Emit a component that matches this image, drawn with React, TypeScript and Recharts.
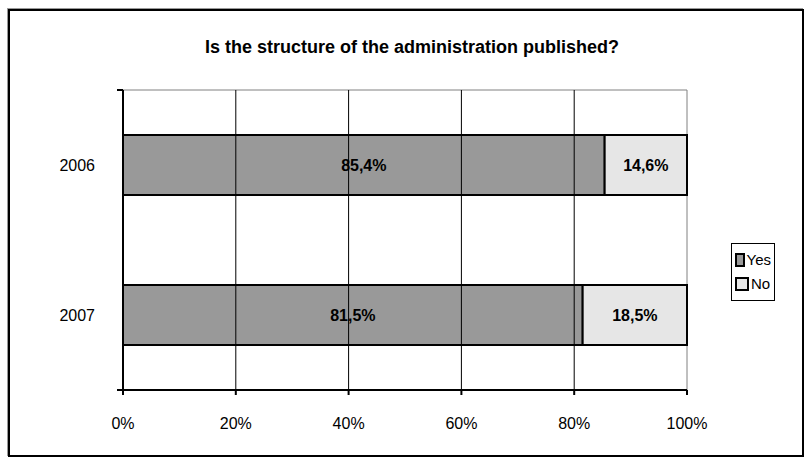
import React from "react";
import {
  BarChart,
  Bar,
  XAxis,
  YAxis,
  Legend,
  LabelList,
  ReferenceLine,
  ReferenceArea,
} from "recharts";

const years = ["2006", "2007"];
const yesValues = [85.4, 81.5];
const noValues = [14.6, 18.5];
const percentTicks = [0, 20, 40, 60, 80, 100];
const innerGrid = [20, 40, 60, 80];
const bandEdges = [0, 1, 2];

const data = years.map((year, i) => ({
  year,
  Yes: yesValues[i],
  No: noValues[i],
}));

const font = "'Liberation Sans', Arial, sans-serif";

const fmt = (v: number) => v.toFixed(1).replace(".", ",") + "%";

const LegendBox = () => (
  <div
    style={{
      border: "1px solid #000",
      background: "#fff",
      padding: "4px 3px",
      fontFamily: font,
      fontSize: 15,
      lineHeight: "24px",
    }}
  >
    {[
      { name: "Yes", color: "#999999" },
      { name: "No", color: "#e6e6e6" },
    ].map((d) => (
      <div key={d.name} style={{ display: "flex", alignItems: "center" }}>
        <span
          style={{
            display: "inline-block",
            width: 10,
            height: 10,
            border: "2px solid #000",
            background: d.color,
            marginRight: 2,
          }}
        />
        {d.name}
      </div>
    ))}
  </div>
);

export default function App() {
  return (
    <div style={{ position: "relative", width: 811, height: 460, background: "#fff" }}>
      <style>{`body{margin:0}`}</style>
      <div
        style={{
          position: "absolute",
          left: 8,
          top: 9,
          width: 792,
          height: 444,
          border: "2px solid #000",
          boxShadow: "-1px -1px 0 #999",
        }}
      />
      <div
        style={{
          position: "absolute",
          left: 0,
          top: 37,
          width: 824,
          textAlign: "center",
          fontFamily: font,
          fontWeight: "bold",
          fontSize: 18,
        }}
      >
        Is the structure of the administration published?
      </div>
      <div style={{ position: "absolute", left: 0, top: 0 }}>
        <BarChart
          width={811}
          height={460}
          data={data}
          layout="vertical"
          barCategoryGap="30%"
          margin={{ top: 90, right: 80, bottom: 40, left: 0 }}
        >
          <ReferenceArea yAxisId="cat" x1={0} x2={100} stroke="#808080" strokeWidth={1} fill="none" ifOverflow="visible" />
          {innerGrid.map((t) => (
            <ReferenceLine key={t} yAxisId="cat" x={t} stroke="#000" strokeWidth={1} />
          ))}
          <XAxis
            type="number"
            domain={[0, 100]}
            ticks={percentTicks}
            tickFormatter={(v) => `${v}%`}
            axisLine={{ stroke: "#000", strokeWidth: 2 }}
            tickLine={{ stroke: "#000", strokeWidth: 2 }}
            tickSize={5}
            tickMargin={23}
            height={30}
            tick={{ fill: "#000", fontSize: 16, fontFamily: font }}
          />
          <YAxis
            type="number"
            domain={[0, 2]}
            ticks={bandEdges}
            width={1}
            tickFormatter={() => ""}
            tickSize={6}
            axisLine={{ stroke: "#000", strokeWidth: 2 }}
            tickLine={{ stroke: "#000", strokeWidth: 2 }}
          />
          <YAxis
            yAxisId="cat"
            type="category"
            dataKey="year"
            width={122}
            axisLine={false}
            tickLine={false}
            tickSize={0}
            tickMargin={27}
            tick={{ fill: "#000", fontSize: 16, fontFamily: font }}
          />
          <Legend
            layout="vertical"
            align="right"
            verticalAlign="middle"
            content={<LegendBox />}
            wrapperStyle={{ left: 731, top: 243, width: 44 }}
          />
          <Bar yAxisId="cat" dataKey="Yes" stackId="a" fill="#999999" stroke="#000" strokeWidth={2} isAnimationActive={false}>
            <LabelList
              dataKey="Yes"
              position="center"
              formatter={(v: any) => fmt(Number(v))}
              style={{ fill: "#000", fontWeight: "bold", fontSize: 16, fontFamily: font }}
            />
          </Bar>
          <Bar yAxisId="cat" dataKey="No" stackId="a" fill="#e6e6e6" stroke="#000" strokeWidth={2} isAnimationActive={false}>
            <LabelList
              dataKey="No"
              position="center"
              formatter={(v: any) => fmt(Number(v))}
              style={{ fill: "#000", fontWeight: "bold", fontSize: 16, fontFamily: font }}
            />
          </Bar>
        </BarChart>
      </div>
    </div>
  );
}
